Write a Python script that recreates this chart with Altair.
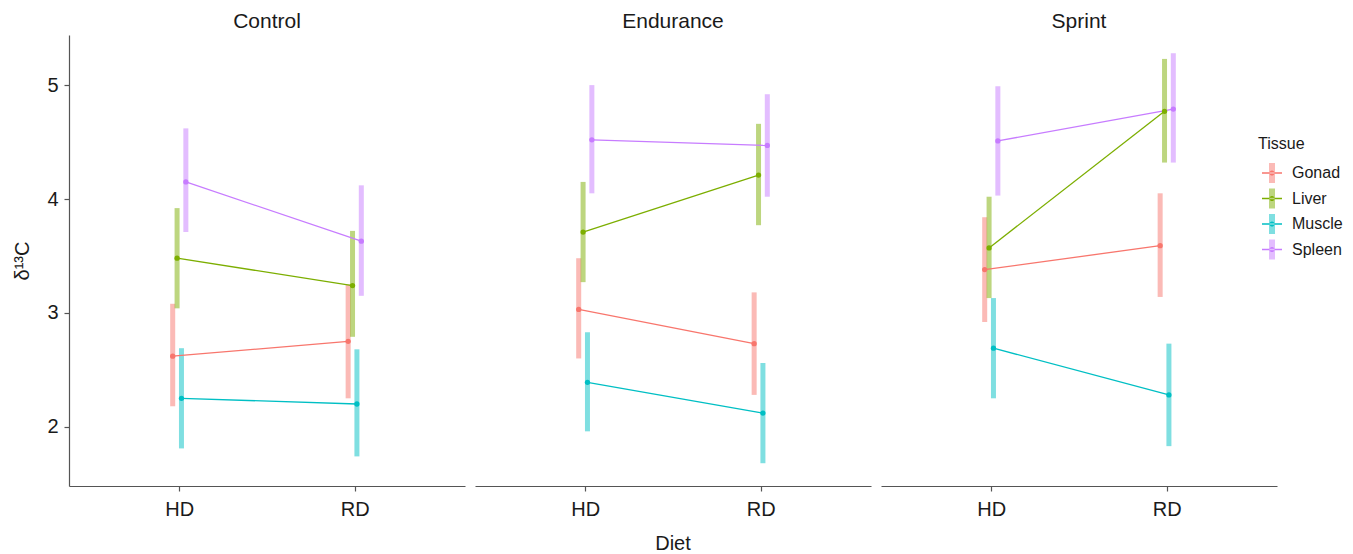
import altair as alt
import pandas as pd

FONT = "Liberation Sans"

groups = ["Control", "Endurance", "Sprint"]
diets = ["HD", "RD"]
tissues = ["Gonad", "Liver", "Muscle", "Spleen"]
colors = ["#F8766D", "#7CAE00", "#00BFC4", "#C77CFF"]

group_col = ["Control"] * 8 + ["Endurance"] * 8 + ["Sprint"] * 8
diet_col = (["HD"] * 4 + ["RD"] * 4) * 3
tissue_col = tissues * 6
mean_val = [2.62, 3.48, 2.25, 4.15, 2.75, 3.24, 2.20, 3.63,
            3.03, 3.71, 2.39, 4.52, 2.73, 4.21, 2.12, 4.47,
            3.38, 3.57, 2.69, 4.51, 3.59, 4.77, 2.28, 4.79]
upper_val = [3.08, 3.92, 2.69, 4.62, 3.25, 3.72, 2.68, 4.12,
             3.48, 4.15, 2.83, 5.00, 3.18, 4.66, 2.56, 4.92,
             3.84, 4.02, 3.13, 4.99, 4.05, 5.23, 2.73, 5.28]
lower_val = [2.18, 3.04, 1.81, 3.71, 2.25, 2.79, 1.74, 3.15,
             2.60, 3.27, 1.96, 4.05, 2.28, 3.77, 1.68, 4.02,
             2.92, 3.13, 2.25, 4.03, 3.14, 4.32, 1.83, 4.32]

df = pd.DataFrame({
    "Group": group_col, "Diet": diet_col, "Tissue": tissue_col,
    "mean": mean_val, "upper": upper_val, "lower": lower_val,
})

tissue_list = "[" + ",".join("'" + t + "'" for t in tissues) + "]"
dodge = 0.025

base = alt.Chart(df).transform_calculate(
    xpos=f"(datum.Diet == 'HD' ? 1 : 2) + (indexof({tissue_list}, datum.Tissue) - 1.5) * {dodge}",
    TissueL="datum.Tissue",
    TissueP="datum.Tissue",
)

x_enc = alt.X("xpos:Q", scale=alt.Scale(domain=[0.4, 2.6], nice=False, zero=False),
              axis=alt.Axis(values=[1, 2], labelExpr="datum.value == 1 ? 'HD' : 'RD'",
                            title=None, grid=False))
y_scale = alt.Scale(domain=[1.48, 5.44], nice=False, zero=False)
y_axis = alt.Axis(values=[2, 3, 4, 5], title="δ¹³C", grid=False)

LX, LY = 1189, 101

# legend symbol shapes (filled); the extra move-to points keep both legends' boxes equal
SYM_BAR = "M-0.3,-1H0.3V1H-0.3ZM-1,0M1,0"
SYM_DOT = ("M-1,-0.075H1V0.075H-1Z"
           "M-0.26,0a0.26,0.26 0 1,0 0.52,0a0.26,0.26 0 1,0 -0.52,0Z"
           "M0,-1M0,1")

def cscale():
    return alt.Scale(range=colors)

def leg(**kw):
    common = dict(orient="none", legendX=LX, legendY=LY, title="Tissue",
                  symbolSize=400, labelFontSize=16, titleFontSize=16,
                  titleFontWeight="normal", titleFont=FONT, labelFont=FONT,
                  titlePadding=11, labelOffset=10, titleColor="#1a1a1a",
                  labelColor="#1a1a1a", padding=0, rowPadding=5.5,
                  symbolStrokeWidth=0, symbolOffset=4)
    common.update(kw)
    return alt.Legend(**common)

bars = base.mark_bar(size=5, opacity=0.5).encode(
    x=x_enc,
    y=alt.Y("lower:Q", scale=y_scale, axis=y_axis),
    y2="upper:Q",
    color=alt.Color("Tissue:N", scale=cscale(),
                    legend=leg(symbolType=SYM_BAR, symbolOpacity=0.5)),
)

lines = base.mark_line(strokeWidth=1.3).encode(
    x=x_enc,
    y=alt.Y("mean:Q", scale=y_scale, axis=y_axis),
    stroke=alt.Stroke("TissueL:N", scale=cscale(), legend=None),
)

points = base.mark_point(filled=True, size=28, opacity=1).encode(
    x=x_enc,
    y=alt.Y("mean:Q", scale=y_scale, axis=y_axis),
    fill=alt.Fill("TissueP:N", scale=cscale(),
                  legend=leg(symbolType=SYM_DOT, symbolOpacity=1,
                             titleOpacity=0, labelOpacity=0)),
)

layered = alt.layer(bars, lines, points).properties(width=396, height=451)

chart = layered.facet(
    column=alt.Column("Group:N", sort=groups,
                      header=alt.Header(title="Diet", titleOrient="bottom", labelOrient="top",
                                        labelFontSize=21, titleFontSize=20, labelFont=FONT,
                                        titleFont=FONT, titleFontWeight="normal",
                                        labelColor="#1a1a1a", titleColor="#1a1a1a",
                                        labelPadding=3, titlePadding=5)),
    spacing=10,
).properties(
    padding={"left": 4, "top": 3, "right": 0, "bottom": 0}
).configure_view(stroke=None).configure_axis(
    domainColor="#555555", tickColor="#555555", domainWidth=1.2, tickWidth=1.2,
    tickSize=5, labelFontSize=20, labelFont=FONT, labelColor="#1a1a1a",
    titleFont=FONT, titleFontSize=20, titleFontWeight="normal", titleColor="#1a1a1a",
    labelPadding=6,
).configure_axisY(titlePadding=14).configure_axisX(labelPadding=8)

chart.save("out.html", embed_options={"renderer": "svg", "actions": False})
